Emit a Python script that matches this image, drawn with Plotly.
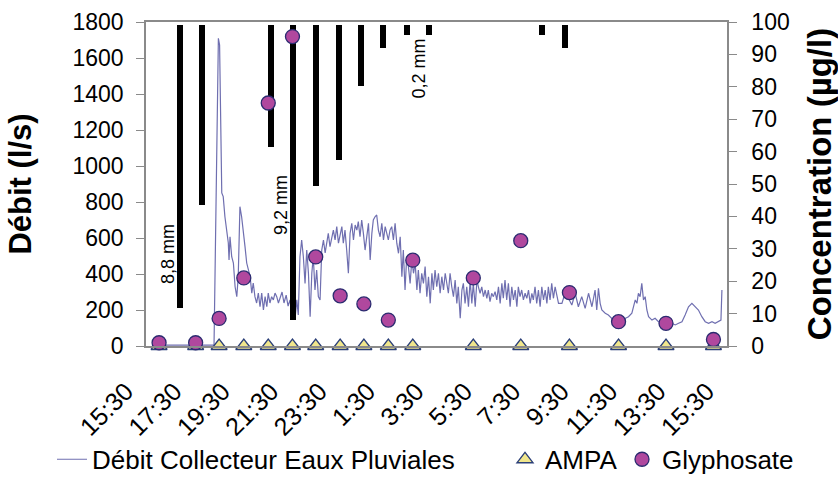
import plotly.graph_objects as go

# ---------------- data ----------------
# time axis: hours elapsed since 15:30
tick_hours = [0, 2, 4, 6, 8, 10, 12, 14, 16, 18, 20, 22, 24]
tick_labels = ["15:30", "17:30", "19:30", "21:30", "23:30", "1:30", "3:30",
               "5:30", "7:30", "9:30", "11:30", "13:30", "15:30"]

# flow in the storm-water collector (l/s)
flow_hours = [
    0.54, 2.81, 2.99, 3.04, 3.13, 3.19, 3.26, 3.33, 3.40, 3.43, 3.47, 3.54, 3.61, 3.68, 3.75,
    3.81, 3.88, 3.95, 4.02, 4.09, 4.16, 4.23, 4.30, 4.37, 4.43, 4.50, 4.57, 4.64, 4.71, 4.78,
    4.85, 4.92, 4.99, 5.05, 5.12, 5.19, 5.26, 5.33, 5.40, 5.47, 5.54, 5.62, 5.70, 5.79, 5.87,
    5.95, 6.02, 6.09, 6.16, 6.23, 6.29, 6.36, 6.43, 6.50, 6.57, 6.64, 6.71, 6.78, 6.85, 6.91,
    6.98, 7.05, 7.12, 7.19, 7.26, 7.33, 7.40, 7.47, 7.53, 7.60, 7.67, 7.74, 7.81, 7.88, 7.95,
    8.02, 8.09, 8.15, 8.22, 8.29, 8.36, 8.43, 8.50, 8.57, 8.64, 8.71, 8.77, 8.84, 8.91, 8.98,
    9.05, 9.19, 9.26, 9.33, 9.39, 9.46, 9.53, 9.60, 9.67, 9.74, 9.81, 9.88, 9.95, 10.01, 10.08,
    10.15, 10.22, 10.29, 10.36, 10.43, 10.50, 10.57, 10.63, 10.70, 10.77, 10.84, 10.91, 10.98,
    11.05, 11.12, 11.19, 11.25, 11.32, 11.39, 11.46, 11.53, 11.60, 11.67, 11.74, 11.81, 11.87,
    11.94, 12.01, 12.08, 12.15, 12.22, 12.29, 12.36, 12.49, 12.56, 12.63, 12.70, 12.77, 12.84,
    12.90, 12.98, 13.05, 13.11, 13.18, 13.25, 13.32, 13.39, 13.46, 13.52, 13.60, 13.67, 13.73,
    13.80, 13.87, 13.94, 14.01, 14.08, 14.14, 14.21, 14.28, 14.35, 14.42, 14.49, 14.56, 14.63,
    14.70, 14.76, 14.83, 14.90, 14.97, 15.04, 15.11, 15.18, 15.25, 15.32, 15.38, 15.45, 15.52,
    15.59, 15.66, 15.73, 15.80, 15.87, 15.94, 16.00, 16.07, 16.14, 16.21, 16.28, 16.35, 16.42,
    16.49, 16.56, 16.62, 16.69, 16.76, 16.83, 16.90, 17.04, 17.18, 17.31, 17.45, 17.59, 17.73,
    17.86, 18.00, 18.14, 18.28, 18.42, 18.55, 18.62, 18.69, 18.76, 18.83, 18.97, 19.10, 19.24,
    19.38, 19.45, 19.52, 19.66, 19.79, 19.93, 20.07, 20.21, 20.28, 20.34, 20.41, 20.48, 20.55,
    20.62, 20.69, 20.76, 20.90, 21.03, 21.17, 21.31, 21.45, 21.58, 21.72, 21.86, 22.00, 22.14,
    22.27, 22.41, 22.55, 22.69, 22.82, 22.96, 23.10, 23.24, 23.38, 23.51, 23.65, 23.75, 23.79,
]
flow_ls = [
    5, 5, 1709, 1672, 850, 830, 718, 644, 572, 478, 607, 496, 461, 329, 274,
    385, 774, 718, 644, 552, 461, 422, 385, 294, 350, 274, 239, 294, 218, 294,
    200, 274, 218, 294, 239, 274, 256, 294, 274, 239, 272, 300, 239, 283, 222,
    256, 183, 239, 156, 256, 172, 496, 589, 496, 348, 533, 404, 163, 406, 496,
    311, 422, 274, 256, 533, 589, 517, 571, 626, 552, 607, 644, 589, 663, 571,
    626, 663, 571, 644, 533, 404, 626, 682, 589, 672, 644, 691, 607, 700, 626,
    533, 682, 478, 626, 700, 718, 728, 644, 607, 682, 589, 663, 626, 589, 644,
    663, 589, 682, 571, 515, 607, 385, 533, 311, 496, 441, 348, 478,
    404, 459, 311, 422, 293, 404, 348, 441, 274, 385, 237, 404, 311,
    422, 329, 404, 293, 385, 311, 404, 293, 404, 329, 274, 367, 237,
    329, 154, 311, 348, 237, 329, 218, 367, 237, 348, 218, 367, 329,
    293, 329, 274, 311, 265, 311, 246, 293, 274, 302, 256, 329, 237,
    348, 265, 367, 256, 348, 218, 329, 256, 311, 218, 329, 274, 311,
    256, 293, 265, 311, 237, 293, 256, 329, 237, 311, 218, 329, 256,
    311, 237, 329, 256, 348, 265, 329, 237, 237, 293, 265, 228, 293,
    218, 274, 209, 293, 218, 311, 200, 321, 237, 200, 182, 172, 154,
    135, 98, 135, 144, 154, 163, 182, 256, 237, 293, 274, 348, 256,
    274, 200, 163, 144, 154, 135, 144, 126, 117, 126, 117, 126, 135,
    172, 218, 237, 218, 200, 163, 135, 126, 135, 126, 135, 144, 311,
]

# rainfall (mm), hanging bars from the top
rain_hours = [1.40, 2.33, 5.17, 6.07, 7.01, 7.98, 8.88, 9.80, 10.77, 11.69, 16.35, 17.31]
rain_mm = [8.8, 5.6, 3.8, 9.2, 5.0, 4.2, 1.9, 0.7, 0.3, 0.3, 0.3, 0.7]

# sampling and concentrations (µg/l)
sample_hours = [0.54, 2.05, 3.02, 4.04, 5.05, 6.05, 7.01, 8.02, 9.00, 10.01, 11.02,
                13.52, 15.48, 17.49, 19.52, 21.48, 23.44]
ampa = [0, 0, 0, 0, 0, 0, 0, 0, 0, 0, 0, 0, 0, 0, 0, 0, 0]
glyphosate = [1, 1, 8.5, 21, 75, 95.5, 27.5, 15.5, 13, 8, 26.5,
              21, 32.5, 16.5, 7.5, 7, 2]

# rain labels
rain_label_text = ["8,8 mm", "9,2 mm", "0,2 mm"]
rain_label_hours = [0.89, 5.58, 11.24]
rain_label_mm = [7.15, 5.6, 1.35]

# ---------------- figure ----------------
FONT = "Liberation Sans, Arial, sans-serif"
AXIS_GREY = "#8a8a8a"

fig = go.Figure()

fig.add_trace(go.Scatter(
    x=flow_hours, y=flow_ls, mode="lines", name="Débit Collecteur Eaux Pluviales",
    line=dict(color="#6f6fb0", width=1.2), yaxis="y", cliponaxis=False, legend="legend",
))
fig.add_trace(go.Bar(
    x=rain_hours, y=rain_mm, yaxis="y2", width=0.25, marker=dict(color="black", line=dict(width=0)),
    showlegend=False, name="Pluie",
))
fig.add_trace(go.Scatter(
    x=sample_hours, y=ampa, mode="markers", name="AMPA", yaxis="y3", cliponaxis=False,
    legend="legend2",
    marker=dict(symbol="triangle-up", size=14, color="#f0e68c",
                line=dict(color="#2b3f78", width=1.3)),
))
fig.add_trace(go.Scatter(
    x=sample_hours, y=glyphosate, mode="markers", name="Glyphosate", yaxis="y3", cliponaxis=False,
    legend="legend3",
    marker=dict(symbol="circle", size=14, color="#b0489e",
                line=dict(color="#2b2b70", width=1.3)),
))

for t, h, v in zip(rain_label_text, rain_label_hours, rain_label_mm):
    fig.add_annotation(x=h, y=v, xref="x", yref="y2", text=t, showarrow=False,
                       textangle=-90, font=dict(size=18, color="black", family=FONT))

legend_common = dict(orientation="h", xref="container", yref="container",
                     xanchor="left", yanchor="top", y=0.092,
                     font=dict(size=26), bgcolor="rgba(0,0,0,0)", itemwidth=30)

fig.update_layout(
    width=838, height=480,
    margin=dict(l=146, r=111, t=22, b=134),
    plot_bgcolor="white", paper_bgcolor="white",
    font=dict(family=FONT, color="black"),
    bargap=0,
    xaxis=dict(
        range=[0, 24], tickvals=tick_hours, ticktext=tick_labels, tickangle=-45,
        showline=True, linecolor=AXIS_GREY, linewidth=1.5, mirror=True,
        ticks="", showgrid=False, zeroline=False, automargin=False,
        tickfont=dict(size=25), ticklabelshift=-20, ticklabelstandoff=19,
    ),
    yaxis=dict(
        range=[0, 1800], dtick=200, showline=True, linecolor=AXIS_GREY, linewidth=1.5,
        ticks="outside", ticklen=8, tickcolor=AXIS_GREY, showgrid=False, zeroline=False,
        tickfont=dict(size=23), ticklabelstandoff=8, automargin=False,
        title=dict(text="<b>Débit (l/s)</b>", font=dict(size=31), standoff=32),
    ),
    yaxis2=dict(
        overlaying="y", range=[10, -0.1], visible=False, showgrid=False, zeroline=False,
    ),
    yaxis3=dict(
        overlaying="y", side="right", range=[0, 100], dtick=10, showline=True,
        linecolor=AXIS_GREY, linewidth=1.5, ticks="outside", ticklen=8, tickcolor=AXIS_GREY,
        showgrid=False, zeroline=False, tickfont=dict(size=23), ticklabelstandoff=10,
        automargin=False,
        title=dict(text="<b>Concentration (µg/l)</b>", font=dict(size=33), standoff=20),
    ),
    legend=dict(legend_common, x=52 / 838),
    legend2=dict(legend_common, x=505 / 838),
    legend3=dict(legend_common, x=622 / 838),
)

fig.write_html("out.html")
